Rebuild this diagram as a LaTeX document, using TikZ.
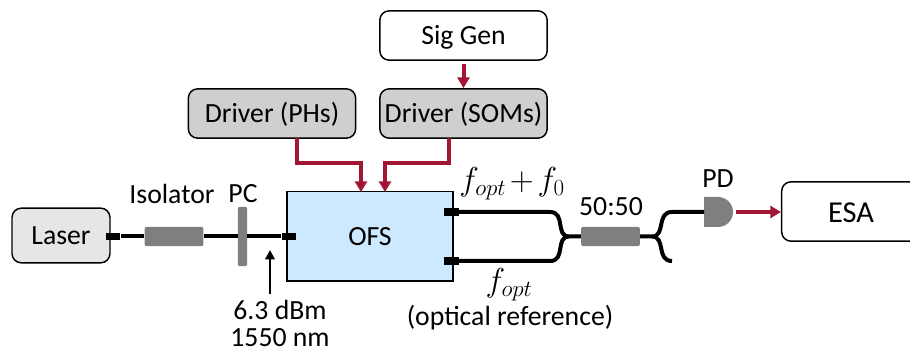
\documentclass[tikz,border=0pt]{standalone}
\usepackage{fontspec}
\setmainfont{Carlito}
\usetikzlibrary{arrows.meta, positioning}
\definecolor{ofsblue}{HTML}{CCE9FF}
\definecolor{rfred}{HTML}{A31535}
\definecolor{devgray}{HTML}{7F7F7F}
\definecolor{drvgray}{HTML}{D0CECE}
\definecolor{srcgray}{HTML}{E7E6E6}

\begin{document}
\begin{tikzpicture}[
    x=0.75pt, y=-0.75pt,
    every node/.style={font=\fontsize{20.8}{21}\selectfont, inner sep=0pt},
    box/.style={draw=black, fill=#1, line width=1.1pt, rounded corners=7pt,
                text height=14pt, text depth=0pt,
                minimum width=125.5pt, minimum height=37pt},
    comp/.style={fill=devgray, rounded corners=1.5pt,
                 minimum width=44pt, minimum height=14.5pt},
    port/.style={fill=black, minimum width=11pt, minimum height=5.5pt},
    fiber/.style={line width=3pt, black},
    rfline/.style={line width=3pt, rfred, -{Triangle[length=8pt, width=9pt]}},
    mathlabel/.style={font=\fontsize{23}{25}\selectfont},
]
    \useasboundingbox (0, 0) rectangle (910, 352);

    % Electronics
    \node[box=white] (siggen) at (463.5, 35.5) {Sig Gen};
    \node[box=drvgray] (drvphs) at (272, 113.5) {Driver (PHs)};
    \node[box=drvgray] (drvsoms) at (463.5, 113.5) {Driver (SOMs)};
    \node[box=srcgray, minimum width=73.5pt, minimum height=41pt] (laser) at (61, 235.5) {Laser};
    \node[box=white, minimum width=104pt, minimum height=44.5pt, text height=16.5pt,
          font=\fontsize{22.8}{24}\selectfont] (esa) at (851, 211.5) {ESA};
    \node[draw=black, fill=ofsblue, line width=1pt, text height=14pt, text depth=0pt,
          minimum width=124.5pt, minimum height=67pt] (ofs) at (370, 236.5) {OFS};

    % Optical parts
    \node[comp] (iso) at (174, 236.5) {};
    \node[comp] (coupler) at (610.5, 236.5) {};
    \node[fill=devgray, rounded corners=1.5pt,
          minimum width=7pt, minimum height=44.5pt] (pc) at (242.5, 236.5) {};
    \node[port] (laserport) at (113, 236.5) {};
    \node[port] (ofsin) at (289, 236.5) {};
    \node[port] (ofstop) at (451.5, 212) {};
    \node[port] (ofsbot) at (451.5, 261) {};
    \coordinate (pdin) at (704, 212);
    \fill[devgray] (pdin) ++(0, -15) -- ++(14, 0) arc (-90:90:15) -- ++(-14, 0) -- cycle;
    \coordinate (pdout) at (736, 212);

    % Fibers
    \draw[fiber] (laserport) -- (iso);
    \draw[fiber] (iso) -- (pc);
    \draw[fiber] (pc) -- (ofsin);
    \coordinate (mergein) at (569, 236.5);
    \coordinate (mergeout) at (652, 236.5);
    \coordinate (endtop) at (672, 212);
    \coordinate (endbot) at (672, 261);
    \draw[fiber] (ofstop) -- (550, 212) .. controls (566, 212) and (555, 236.5) .. (mergein) -- (coupler);
    \draw[fiber] (ofsbot) -- (550, 261) .. controls (566, 261) and (555, 236.5) .. (mergein);
    \draw[fiber] (coupler) -- (mergeout) .. controls (666, 236.5) and (656, 212) .. (endtop) -- (pdin);
    \draw[fiber] (mergeout) .. controls (666, 236.5) and (656, 261) .. (endbot);

    % RF arrows
    \coordinate (phsout) at (297, 138);
    \coordinate (phsin) at (361, 192);
    \coordinate (somsout) at (449, 138);
    \coordinate (somsin) at (385, 192);
    \draw[rfline] (siggen.south) ++(0, 3) -- (drvsoms.north);
    \draw[rfline] (phsout) -- ++(0, 25) -| (phsin);
    \draw[rfline] (somsout) -- ++(0, 25) -| (somsin);
    \draw[rfline] (pdout) -- (esa.west |- pdout);

    % Labels
    \node (isolabel) at (172, 194) {Isolator};
    \node (pclabel) at (243, 194) {PC};
    \node[mathlabel] (toplabel) at (512, 184) {$\medmuskip=2mu f_{opt}+f_0$};
    \node (splitlabel) at (611, 207) {50:50};
    \node (pdlabel) at (718, 179) {PD};
    \node[mathlabel] (botlabel) at (509, 285) {$f_{opt}$};
    \node (reflabel) at (510, 318) {(optical reference)};
    \node (powerlabel) at (280, 310) {6.3 dBm};
    \node[below=6pt of powerlabel.south] (wavelabel) {1550 nm};
    \coordinate (powertip) at (270, 250);
    \draw[-{Triangle[length=7pt, width=7pt]}, line width=1.8pt] (270, 294) -- (powertip);
\end{tikzpicture}
\end{document}
